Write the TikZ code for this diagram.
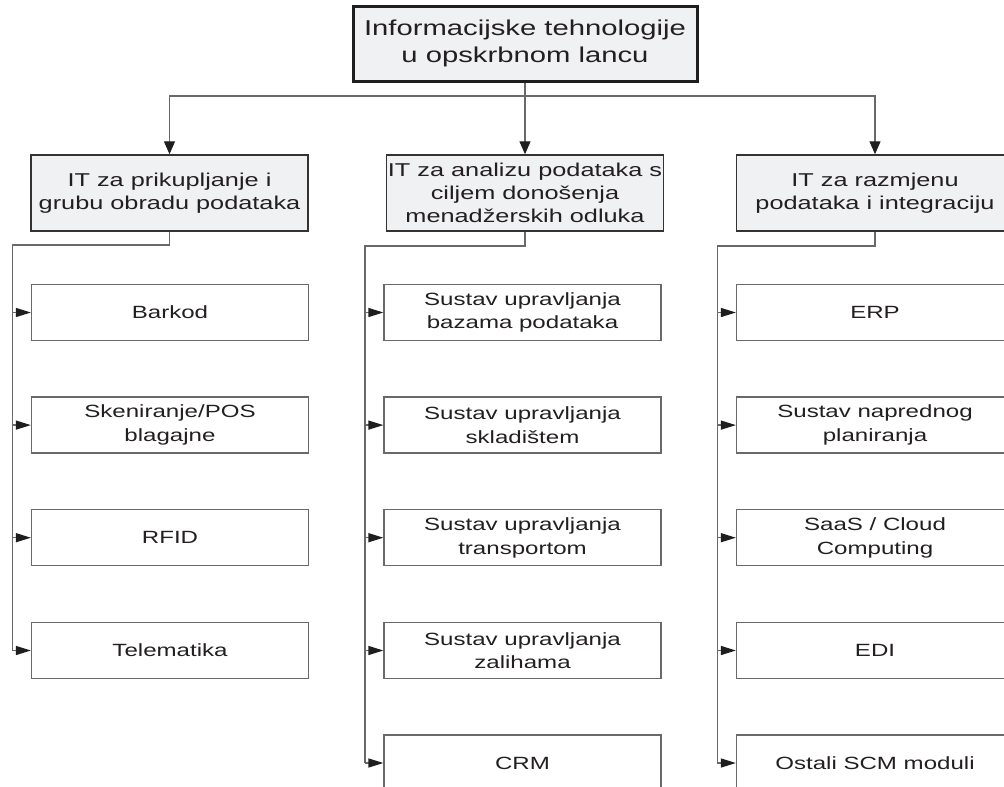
\documentclass[tikz,border=0pt]{standalone}
\usepackage{fontspec}
\setmainfont{Liberation Sans}[FakeStretch=1.36]
\usetikzlibrary{arrows.meta}
\definecolor{txt}{RGB}{35,31,32}
\definecolor{boxfill}{RGB}{240,241,243}
\definecolor{linegray}{RGB}{105,105,105}
\definecolor{tipcol}{RGB}{30,30,30}
\begin{document}
\begin{tikzpicture}[x=1pt,y=-1pt,
  topbox/.style={draw=tipcol, line width=3pt, fill=boxfill, minimum width=344pt, minimum height=75pt, inner sep=0pt, align=center, text=txt, font=\fontsize{21.5}{27.3}\selectfont},
  midbox/.style={draw=black!80, line width=1.5pt, fill=boxfill, minimum width=277pt, minimum height=76pt, inner sep=0pt, align=center, text=txt, font=\fontsize{18.6}{23.3}\selectfont},
  leaf/.style={draw=linegray, line width=1.3pt, fill=white, minimum width=277pt, minimum height=56pt, inner sep=0pt, align=center, text=txt, font=\fontsize{17.7}{23.6}\selectfont},
  conn/.style={draw=linegray, line width=1.3pt},
  arr/.style={-{Triangle[length=13pt,width=11pt,color=tipcol]}},
  larr/.style={-{Triangle[length=15pt,width=9pt,color=tipcol]}}
]
\useasboundingbox (0,0) rectangle (1004,787);
\clip (0,0) rectangle (1004,787);
\fill[white] (0,0) rectangle (1004,787);

% root and level 2
\node[topbox] (root) at (525,43.5) {Informacijske tehnologije\\u opskrbnom lancu};
\node[midbox] (A) at (169.5,193) {IT za prikupljanje i\\grubu obradu podataka};
\node[midbox] (B) at (525,193) {IT za analizu podataka s\\ciljem donošenja\\menadžerskih odluka};
\node[midbox] (C) at (875,193) {IT za razmjenu\\podataka i integraciju};

% leaves
\node[leaf] (A1) at (170,312.5) {Barkod};
\node[leaf] (A2) at (170,425.1) {Skeniranje/POS\\blagajne};
\node[leaf] (A3) at (170,537.7) {RFID};
\node[leaf] (A4) at (170,650.5) {Telematika};

\node[leaf] (B1) at (522.5,312.5) {Sustav upravljanja\\bazama podataka};
\node[leaf] (B2) at (522.5,425.1) {Sustav upravljanja\\skladištem};
\node[leaf] (B3) at (522.5,537.7) {Sustav upravljanja\\transportom};
\node[leaf] (B4) at (522.5,650.5) {Sustav upravljanja\\zalihama};
\node[leaf] (B5) at (522.5,763) {CRM};

\node[leaf] (C1) at (875,312.5) {ERP};
\node[leaf] (C2) at (875,425.1) {Sustav naprednog\\planiranja};
\node[leaf] (C3) at (875,537.7) {SaaS / Cloud\\Computing};
\node[leaf] (C4) at (875,650.5) {EDI};
\node[leaf] (C5) at (875,763) {Ostali SCM moduli};

% top connectors
\coordinate (bus) at (525,96);
\draw[conn] (root.south) -- (bus);
\draw[conn,arr] (bus) -| (A.north);
\draw[conn,arr] (bus) -- (B.north);
\draw[conn,arr] (bus) -| (C.north);

% column trunks
\coordinate (Ta) at (12.7,245);
\coordinate (Tb) at (365,246);
\coordinate (Tc) at (717.3,246);
\draw[conn] (A.south) |- (Ta) -- (Ta |- A4.west);
\draw[conn] (B.south) |- (Tb) -- (Tb |- B5.west);
\draw[conn] (C.south) |- (Tc) -- (Tc |- C5.west);
\foreach \i in {1,2,3,4} {\draw[conn,larr] (Ta |- A\i.west) -- (A\i.west);}
\foreach \i in {1,2,3,4,5} {\draw[conn,larr] (Tb |- B\i.west) -- (B\i.west);}
\foreach \i in {1,2,3,4,5} {\draw[conn,larr] (Tc |- C\i.west) -- (C\i.west);}
\end{tikzpicture}
\end{document}
